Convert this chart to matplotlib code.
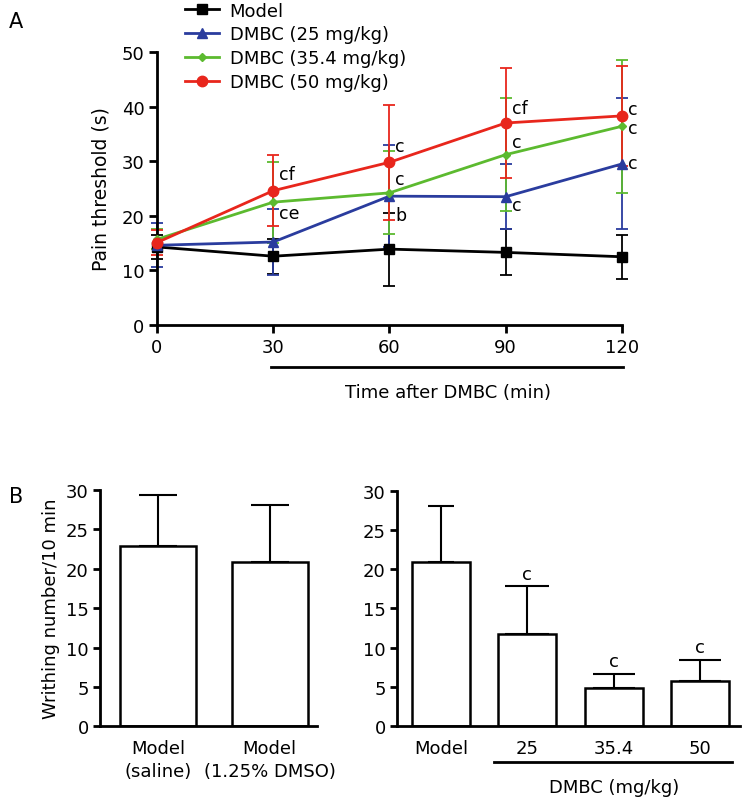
import matplotlib
matplotlib.use("Agg")
import matplotlib.pyplot as plt
from matplotlib.lines import Line2D
import numpy as np

plt.rcParams["font.family"] = ["DejaVu Sans"]
plt.rcParams["font.size"] = 13

# Panel A: pain threshold over time
times = [0, 30, 60, 90, 120]
model_mean = [14.3, 12.6, 13.9, 13.3, 12.5]
model_err = [2.2, 3.2, 6.7, 4.2, 4.0]
d25_mean = [14.6, 15.2, 23.6, 23.5, 29.5]
d25_err = [4.0, 6.1, 9.3, 6.0, 12.0]
d354_mean = [15.7, 22.5, 24.2, 31.2, 36.4]
d354_err = [1.8, 7.4, 7.6, 10.3, 12.2]
d50_mean = [15.1, 24.6, 29.8, 37.0, 38.3]
d50_err = [2.3, 6.5, 10.5, 10.1, 9.2]

series_names = ["Model", "DMBC (25 mg/kg)", "DMBC (35.4 mg/kg)", "DMBC (50 mg/kg)"]
series_colors = ["black", "#2a3c9e", "#5cba2f", "#e8261c"]
series_markers = ["s", "^", "D", "o"]
series_msize = [7, 7, 4.5, 7.5]

# significance letters in panel A: (time, y, text)
sig_a = [
    (30, 27.6, "cf"), (30, 20.6, "ce"),
    (60, 32.8, "c"), (60, 26.8, "c"), (60, 20.2, "b"),
    (90, 39.8, "cf"), (90, 33.6, "c"), (90, 21.9, "c"),
    (120, 39.6, "c"), (120, 36.0, "c"), (120, 29.7, "c"),
]

# Panel B: writhing number
left_labels = ["Model\n(saline)", "Model\n(1.25% DMSO)"]
left_mean = [22.9, 20.8]
left_err = [6.5, 7.3]

right_labels = ["Model", "25", "35.4", "50"]
right_mean = [20.9, 11.7, 4.9, 5.7]
right_err = [7.2, 6.1, 1.7, 2.7]
right_sig = ["", "c", "c", "c"]

fig = plt.figure(figsize=(7.5, 8.03), dpi=100)

# ---------- A ----------
ax = fig.add_axes([0.2093, 0.594, 0.62, 0.34])
means = [model_mean, d25_mean, d354_mean, d50_mean]
errs = [model_err, d25_err, d354_err, d50_err]
for m, e, c in zip(means, errs, series_colors):
    ax.errorbar(times, m, yerr=e, fmt="none", ecolor=c, elinewidth=1.3,
                capsize=4.5, capthick=1.3, clip_on=False, zorder=2)
for m, c, mk, ms, name in zip(means, series_colors, series_markers, series_msize, series_names):
    ax.plot(times, m, color=c, marker=mk, markersize=ms, lw=2, clip_on=False,
            zorder=3, label=name)

for t, yv, s in sig_a:
    ax.text(t + 1.5, yv, s, ha="left", va="center", fontsize=12.5)

ax.set_xlim(0, 120)
ax.set_ylim(0, 50)
ax.set_xticks(times)
ax.set_yticks(np.arange(0, 51, 10))
ax.set_ylabel("Pain threshold (s)", fontsize=13.5, labelpad=8)
for sp in ["top", "right"]:
    ax.spines[sp].set_visible(False)
for sp in ["left", "bottom"]:
    ax.spines[sp].set_linewidth(2)
ax.tick_params(width=2, length=6, labelsize=13, pad=3)

trans = ax.get_xaxis_transform()
ax.plot([29.5, 120.3], [-0.155, -0.155], color="black", lw=2, transform=trans, clip_on=False)
ax.text(75, -0.245, "Time after DMBC (min)", ha="center", va="center",
        transform=trans, fontsize=13)

handles = [Line2D([], [], color=c, marker=mk, markersize=ms, lw=2)
           for c, mk, ms in zip(series_colors, series_markers, series_msize)]
fig.legend(handles, series_names, loc="upper left", bbox_to_anchor=(0.234, 1.008),
           frameon=False, handlelength=1.9, handletextpad=0.6, labelspacing=0.32,
           borderpad=0.0, fontsize=13)

fig.text(0.012, 0.972, "A", fontsize=15, va="center")
fig.text(0.012, 0.381, "B", fontsize=15, va="center")


def style_bar_axes(a):
    for sp in ["top", "right"]:
        a.spines[sp].set_visible(False)
    for sp in ["left", "bottom"]:
        a.spines[sp].set_linewidth(2)
    a.set_ylim(0, 30)
    a.set_yticks(np.arange(0, 31, 5))
    a.tick_params(axis="y", width=2, length=5, labelsize=13, pad=3)
    a.tick_params(axis="x", length=0, labelsize=13, pad=9)


# ---------- B left ----------
axl = fig.add_axes([0.1333, 0.0943, 0.289, 0.2942])
xl = np.arange(len(left_mean))
axl.bar(xl, left_mean, width=0.68, color="white", edgecolor="black", lw=1.8, zorder=2)
axl.errorbar(xl, left_mean, yerr=[[0] * len(left_err), left_err], fmt="none",
             ecolor="black", elinewidth=1.5, capsize=13.5, capthick=1.5, zorder=1)
axl.set_xlim(-0.52, 1.42)
axl.set_xticks(xl)
axl.set_xticklabels(left_labels, linespacing=1.35)
axl.set_ylabel("Writhing number/10 min", fontsize=13, labelpad=4)
style_bar_axes(axl)

# ---------- B right ----------
axr = fig.add_axes([0.529, 0.0943, 0.4577, 0.2935])
xr = np.arange(len(right_mean))
axr.bar(xr, right_mean, width=0.67, color="white", edgecolor="black", lw=1.8, zorder=2)
capsizes = [9.7, 16, 15, 15]
for x, m, e, cs, s in zip(xr, right_mean, right_err, capsizes, right_sig):
    axr.errorbar([x], [m], yerr=[[0], [e]], fmt="none", ecolor="black",
                 elinewidth=1.5, capsize=cs, capthick=1.5, zorder=1)
    if s:
        axr.text(x, m + e + 0.5, s, ha="center", va="bottom", fontsize=13)
axr.set_xlim(-0.51, 3.46)
axr.set_xticks(xr)
axr.set_xticklabels(right_labels)
style_bar_axes(axr)

transr = axr.get_xaxis_transform()
axr.plot([0.62, 3.37], [-0.15, -0.15], color="black", lw=2, transform=transr, clip_on=False)
axr.text(2.0, -0.258, "DMBC (mg/kg)", ha="center", va="center", transform=transr, fontsize=13)

fig.savefig("out.png", dpi=100)
